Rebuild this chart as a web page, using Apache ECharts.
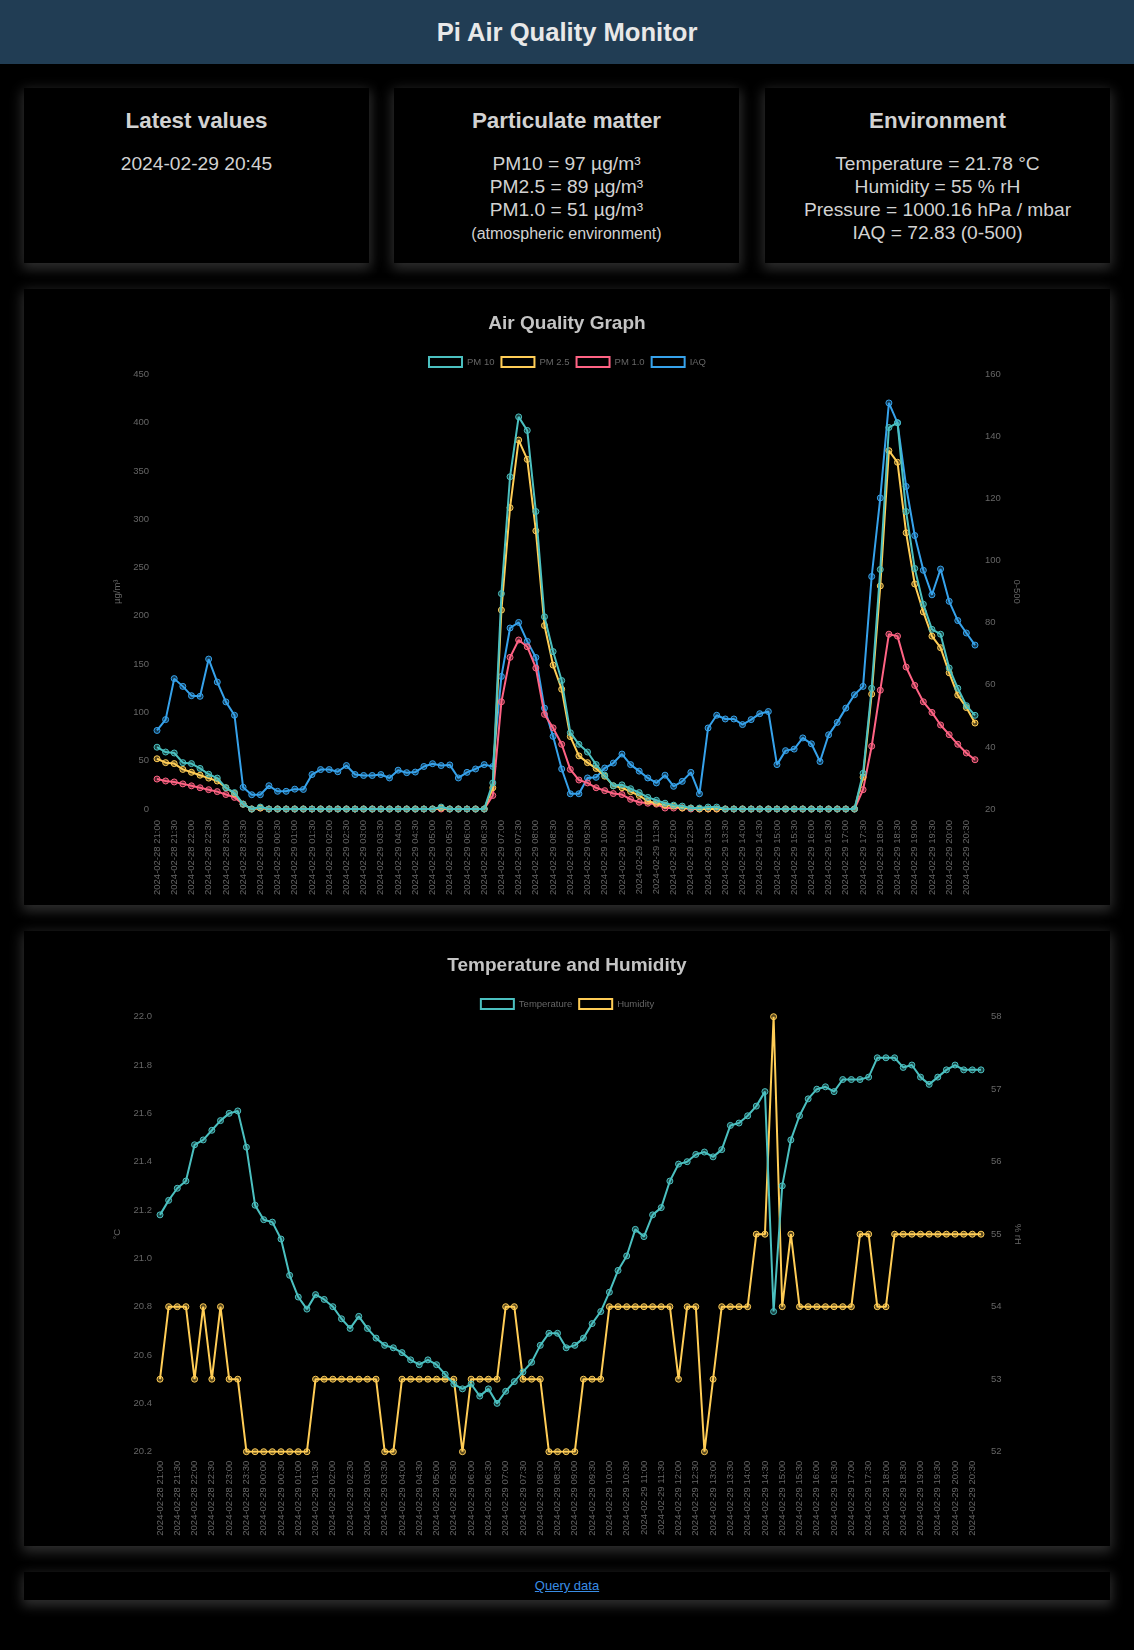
<!DOCTYPE html>
<html>
<head>
<meta charset="utf-8">
<script src="https://cdn.jsdelivr.net/npm/echarts@6/dist/echarts.min.js"></script>
<style>
html,body{margin:0;padding:0;background:#000;width:1134px;height:1650px;overflow:hidden;font-family:"Liberation Sans",Arial,Helvetica,sans-serif;color:#d2d2d2;}
#hdr{position:absolute;left:0;top:0;width:1134px;height:64px;background:#213d54;}
#hdr div{font-size:25.6px;font-weight:bold;line-height:64px;text-align:center;color:#e8e8e8;}
.card{position:absolute;background:#000;box-shadow:0 4px 12px 2px rgba(85,85,85,0.55);}
.box{top:88px;width:345px;height:175px;text-align:center;}
.box .t{position:absolute;left:0;right:0;top:19px;font-size:22.4px;font-weight:bold;line-height:28px;}
.box .b{position:absolute;left:0;right:0;top:64px;font-size:19.2px;line-height:23px;}
.box .s{font-size:16px;}
#foot{left:24px;top:1572px;width:1086px;height:28px;text-align:center;}
#foot a{font-size:13px;line-height:28px;color:#3a8ee6;text-decoration:underline;}
</style>
</head>
<body>
<div id="hdr"><div>Pi Air Quality Monitor</div></div>
<div class="card box" style="left:24px"><div class="t">Latest values</div><div class="b">2024-02-29 20:45</div></div>
<div class="card box" style="left:394px"><div class="t">Particulate matter</div><div class="b">PM10 = 97 µg/m³<br>PM2.5 = 89 µg/m³<br>PM1.0 = 51 µg/m³<br><span class="s">(atmospheric environment)</span></div></div>
<div class="card box" style="left:765px"><div class="t">Environment</div><div class="b">Temperature = 21.78 °C<br>Humidity = 55 % rH<br>Pressure = 1000.16 hPa / mbar<br>IAQ = 72.83 (0-500)</div></div>
<div class="card" style="left:24px;top:289px;width:1086px;height:616px"><div id="c1" style="width:1086px;height:616px"></div></div>
<div class="card" style="left:24px;top:931px;width:1086px;height:615px"><div id="c2" style="width:1086px;height:615px"></div></div>
<div class="card" id="foot"><a href="#">Query data</a></div>
<script>
const labels = [
'2024-02-28 21:00','2024-02-28 21:15','2024-02-28 21:30','2024-02-28 21:45',
'2024-02-28 22:00','2024-02-28 22:15','2024-02-28 22:30','2024-02-28 22:45',
'2024-02-28 23:00','2024-02-28 23:15','2024-02-28 23:30','2024-02-28 23:45',
'2024-02-29 00:00','2024-02-29 00:15','2024-02-29 00:30','2024-02-29 00:45',
'2024-02-29 01:00','2024-02-29 01:15','2024-02-29 01:30','2024-02-29 01:45',
'2024-02-29 02:00','2024-02-29 02:15','2024-02-29 02:30','2024-02-29 02:45',
'2024-02-29 03:00','2024-02-29 03:15','2024-02-29 03:30','2024-02-29 03:45',
'2024-02-29 04:00','2024-02-29 04:15','2024-02-29 04:30','2024-02-29 04:45',
'2024-02-29 05:00','2024-02-29 05:15','2024-02-29 05:30','2024-02-29 05:45',
'2024-02-29 06:00','2024-02-29 06:15','2024-02-29 06:30','2024-02-29 06:45',
'2024-02-29 07:00','2024-02-29 07:15','2024-02-29 07:30','2024-02-29 07:45',
'2024-02-29 08:00','2024-02-29 08:15','2024-02-29 08:30','2024-02-29 08:45',
'2024-02-29 09:00','2024-02-29 09:15','2024-02-29 09:30','2024-02-29 09:45',
'2024-02-29 10:00','2024-02-29 10:15','2024-02-29 10:30','2024-02-29 10:45',
'2024-02-29 11:00','2024-02-29 11:15','2024-02-29 11:30','2024-02-29 11:45',
'2024-02-29 12:00','2024-02-29 12:15','2024-02-29 12:30','2024-02-29 12:45',
'2024-02-29 13:00','2024-02-29 13:15','2024-02-29 13:30','2024-02-29 13:45',
'2024-02-29 14:00','2024-02-29 14:15','2024-02-29 14:30','2024-02-29 14:45',
'2024-02-29 15:00','2024-02-29 15:15','2024-02-29 15:30','2024-02-29 15:45',
'2024-02-29 16:00','2024-02-29 16:15','2024-02-29 16:30','2024-02-29 16:45',
'2024-02-29 17:00','2024-02-29 17:15','2024-02-29 17:30','2024-02-29 17:45',
'2024-02-29 18:00','2024-02-29 18:15','2024-02-29 18:30','2024-02-29 18:45',
'2024-02-29 19:00','2024-02-29 19:15','2024-02-29 19:30','2024-02-29 19:45',
'2024-02-29 20:00','2024-02-29 20:15','2024-02-29 20:30','2024-02-29 20:45'
];
const pm10 = [64,59,58,48,47,42,36,32,22,17,5,0,2,0,0,0,0,0,0,0,0,0,0,0,0,0,0,0,0,0,0,0,0,2,0,0,0,0,0,27,
223,344,406,392,308,199,163,133,79,67,59,46,35,24,25,21,17,12,9,6,4,3,1,1,2,2,0,0,0,0,0,0,0,0,0,0,0,0,0,0,
0,0,37,125,248,395,400,308,249,212,186,181,146,125,107,97];
const pm25 = [52,48,47,41,38,35,32,29,22,16,5,0,1,0,0,0,0,0,0,0,0,0,0,0,0,0,0,0,0,0,0,0,0,1,0,0,0,0,0,22,
206,312,382,362,288,190,149,124,75,55,48,42,34,24,22,18,14,8,6,4,3,1,1,0,0,0,0,0,0,0,0,0,0,0,0,0,0,0,0,0,
0,0,33,119,231,371,359,286,233,204,179,167,141,118,105,89];
const pm1 = [31,29,28,26,24,22,20,18,15,12,5,0,1,0,0,0,0,0,0,0,0,0,0,0,0,0,0,0,0,0,0,0,0,0,0,0,0,0,0,14,
111,157,175,168,146,98,84,67,41,30,27,22,19,16,15,10,7,6,5,1,1,1,0,0,0,0,0,0,0,0,0,0,0,0,0,0,0,0,0,0,
0,0,20,65,123,181,179,147,128,111,100,87,77,67,58,51];
const iaq = [45.3,48.8,62.0,59.5,56.5,56.3,68.3,60.9,54.5,50.2,27.0,24.6,24.6,27.5,25.7,25.7,26.4,26.3,31.1,32.7,
32.7,32.0,34.0,31.1,30.8,30.8,31.1,30.0,32.5,31.7,31.9,33.7,34.6,34.0,34.2,30.0,31.8,32.9,34.3,33.7,
62.7,78.3,80.1,74.0,68.8,52.5,43.4,32.9,24.9,24.9,30.0,30.2,33.2,34.8,37.7,34.3,32.2,30.0,28.4,30.9,
27.3,28.9,31.8,24.9,46.1,50.2,49.0,49.0,47.2,48.8,50.7,51.4,34.3,38.8,39.3,42.9,41.0,35.3,43.9,47.9,
52.5,56.8,59.5,94.9,120.2,150.8,144.4,123.9,108.1,96.9,89.0,97.3,86.9,80.7,76.7,72.8];
const temperature = [21.18,21.24,21.29,21.32,21.47,21.49,21.53,21.57,21.60,21.61,21.46,21.22,21.16,21.15,21.08,20.93,20.84,20.79,20.85,20.83,
20.80,20.75,20.71,20.76,20.71,20.67,20.64,20.63,20.61,20.58,20.56,20.58,20.56,20.52,20.48,20.46,20.48,20.43,20.46,20.40,
20.45,20.49,20.53,20.57,20.64,20.69,20.69,20.63,20.64,20.67,20.73,20.78,20.86,20.95,21.01,21.12,21.09,21.18,21.21,21.32,
21.39,21.40,21.43,21.44,21.42,21.45,21.55,21.56,21.59,21.63,21.69,20.78,21.30,21.49,21.59,21.66,21.70,21.71,21.69,21.74,
21.74,21.74,21.75,21.83,21.83,21.83,21.79,21.80,21.75,21.72,21.75,21.78,21.80,21.78,21.78,21.78];
const humidity = [53,54,54,54,53,54,53,54,53,53,52,52,52,52,52,52,52,52,53,53,
53,53,53,53,53,53,52,52,53,53,53,53,53,53,53,52,53,53,53,53,
54,54,53,53,53,52,52,52,52,53,53,53,54,54,54,54,54,54,54,54,
53,54,54,52,53,54,54,54,54,55,55,58,54,55,54,54,54,54,54,54,
54,55,55,54,54,55,55,55,55,55,55,55,55,55,55,55];

const FONT = '"Liberation Sans", Arial, Helvetica, sans-serif';
const TICK = '#666';
const C = {teal:'75,192,192', yellow:'255,205,86', pink:'255,99,132', blue:'54,162,235'};

function lineSeries(name, data, rgb, yIdx, z){
  return {name, type:'line', data, yAxisIndex:yIdx, z,
    symbol:'circle', symbolSize:6, showSymbol:true, showAllSymbol:true,
    lineStyle:{color:'rgb('+rgb+')', width:2},
    itemStyle:{color:'rgba('+rgb+',0.35)', borderColor:'rgb('+rgb+')', borderWidth:1},
    emphasis:{disabled:true}};
}
function legendItem(name, rgb){
  return {name, itemStyle:{color:'#000', borderColor:'rgb('+rgb+')', borderWidth:2}};
}
function xAxisCfg(margin){
  return {type:'category', data:labels, boundaryGap:false,
    axisLine:{show:false}, axisTick:{show:false}, splitLine:{show:false},
    axisLabel:{interval:1, rotate:90, color:TICK, fontSize:9.5, fontFamily:FONT, margin}};
}
function yAxisCfg(pos, min, max, interval, name, rot, gap, margin, fmt){
  return {type:'value', position:pos, min, max, interval, name, nameLocation:'middle', nameRotate:rot, nameGap:gap,
    nameTextStyle:{color:TICK, fontSize:9.5, fontFamily:FONT},
    axisLine:{show:false}, axisTick:{show:false}, splitLine:{show:false},
    axisLabel:{color:TICK, fontSize:9.5, fontFamily:FONT, margin, formatter:fmt}};
}
const titleCfg = (text)=>({text, left:'center', top:25, padding:0,
  textStyle:{color:'#c4c4c4', fontSize:19, fontWeight:'bold', fontFamily:FONT, lineHeight:20}});
const legendCfg = (data)=>({data, top:67, left:'center', padding:0, itemWidth:33, itemHeight:10, itemGap:6,
  icon:'rect', textStyle:{color:TICK, fontSize:9.5, fontFamily:FONT}, selectedMode:false});

const c1 = echarts.init(document.getElementById('c1'), null, {renderer:'canvas'});
c1.setOption({
  animation:false, backgroundColor:'#000', textStyle:{fontFamily:FONT},
  title: titleCfg('Air Quality Graph'),
  legend: legendCfg([legendItem('PM 10',C.teal), legendItem('PM 2.5',C.yellow), legendItem('PM 1.0',C.pink), legendItem('IAQ',C.blue)]),
  grid:{left:133, right:135, top:85.4, height:434.6, containLabel:false},
  xAxis: xAxisCfg(11),
  yAxis:[
    yAxisCfg('left',0,450,50,'µg/m³',90,27,8),
    yAxisCfg('right',20,160,20,'0-500',-90,31,10)
  ],
  series:[
    lineSeries('IAQ', iaq, C.blue, 1, 2),
    lineSeries('PM 1.0', pm1, C.pink, 0, 3),
    lineSeries('PM 2.5', pm25, C.yellow, 0, 4),
    lineSeries('PM 10', pm10, C.teal, 0, 5)
  ]
});

const c2 = echarts.init(document.getElementById('c2'), null, {renderer:'canvas'});
c2.setOption({
  animation:false, backgroundColor:'#000', textStyle:{fontFamily:FONT},
  title: titleCfg('Temperature and Humidity'),
  legend: legendCfg([legendItem('Temperature',C.teal), legendItem('Humidity',C.yellow)]),
  grid:{left:136, right:129, top:85.7, height:435, containLabel:false},
  xAxis: xAxisCfg(9),
  yAxis:[
    yAxisCfg('left',20.2,22.0,0.2,'°C',90,30,8,(v)=>v.toFixed(1)),
    yAxisCfg('right',52,58,1,'% rH',-90,24,10)
  ],
  series:[
    lineSeries('Humidity', humidity, C.yellow, 1, 3),
    lineSeries('Temperature', temperature, C.teal, 0, 4)
  ]
});
</script>
</body>
</html>
